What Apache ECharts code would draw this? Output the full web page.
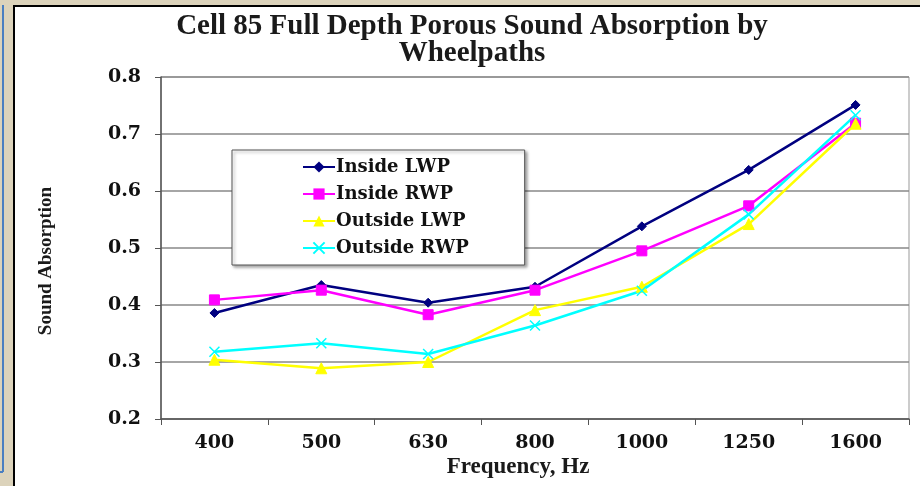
<!DOCTYPE html>
<html>
<head>
<meta charset="utf-8">
<script src="https://cdn.jsdelivr.net/npm/echarts@6/dist/echarts.min.js"></script>
<style>
html,body{margin:0;padding:0;background:#dcd3bb;}
#c{width:920px;height:486px;}
</style>
</head>
<body>
<div id="c"></div>
<script>
const categories = ['400','500','630','800','1000','1250','1600'];
const insideLWP  = [0.386, 0.435, 0.404, 0.432, 0.538, 0.637, 0.751];
const insideRWP  = [0.409, 0.426, 0.383, 0.426, 0.495, 0.574, 0.719];
const outsideLWP = [0.304, 0.289, 0.300, 0.391, 0.432, 0.542, 0.718];
const outsideRWP = [0.318, 0.333, 0.314, 0.364, 0.425, 0.559, 0.733];
const seriesNames = ['Inside LWP','Inside RWP','Outside LWP','Outside RWP'];

const serif = '"Liberation Serif", "DejaVu Serif", serif';
const wideSerif = '"DejaVu Serif", serif';
const xPath = 'path://M0,0 L10,10 M10,0 L0,10';

const chart = echarts.init(document.getElementById('c'), null, {renderer:'canvas'});
function mk(name, data, color, symbol, size, extra){
  return Object.assign({
    name: name, type:'line', data: data,
    symbol: symbol, symbolSize: size,
    lineStyle:{color: color, width: 2.5},
    itemStyle:{color: color, borderColor: color},
    animation:false
  }, extra||{});
}
chart.setOption({
  backgroundColor:'#dcd3bb',
  animation:false,
  graphic:[
    {type:'rect', shape:{x:0,y:0,width:920,height:486}, style:{fill:'#dcd3bb'}, z:-10, silent:true},
    {type:'line', shape:{x1:3,y1:5,x2:3,y2:472}, style:{stroke:'#4a7fc1', lineWidth:2}, z:-9},
    {type:'line', shape:{x1:0,y1:472,x2:3,y2:472}, style:{stroke:'#4a7fc1', lineWidth:2}, z:-9},
    {type:'rect', shape:{x:13,y:5,width:907,height:481}, style:{fill:'#000'}, z:-8, silent:true},
    {type:'rect', shape:{x:15,y:7,width:905,height:479}, style:{fill:'#fff'}, z:-7, silent:true},
    {type:'text', x:46, y:261, rotation:Math.PI/2, z:10,
      style:{text:'Sound Absorption', fill:'#1a1a1a', font:'bold 19px "Liberation Serif", serif', align:'center', verticalAlign:'middle'}},
    {type:'text', x:518, y:467, z:10,
      style:{text:'Frequency, Hz', fill:'#1a1a1a', font:'bold 23px "Liberation Serif", serif', align:'center', verticalAlign:'middle'}}
  ],
  title:{
    text:'Cell 85 Full Depth Porous Sound Absorption by\nWheelpaths',
    left:467, top:8, textAlign:'center',
    textStyle:{fontFamily:serif, fontWeight:'bold', fontSize:29, color:'#1a1a1a', lineHeight:27}
  },
  legend:{
    orient:'vertical', left:232, top:150,
    padding:[8,56,8,70],
    itemGap:9, itemWidth:32, itemHeight:14,
    backgroundColor:'#fff',
    borderColor:'#555', borderWidth:1,
    shadowColor:'rgba(0,0,0,0.35)', shadowBlur:3, shadowOffsetX:2, shadowOffsetY:2,
    data: seriesNames,
    textStyle:{fontFamily:wideSerif, fontWeight:'bold', fontSize:18, color:'#111', padding:[0,0,0,-4]}
  },
  grid:{left:161, right:11, top:77, bottom:67, show:true, borderColor:'#999', borderWidth:1, backgroundColor:'transparent'},
  xAxis:{
    type:'category', data: categories, boundaryGap:true,
    axisLine:{lineStyle:{color:'#555', width:1.5}},
    axisTick:{show:true, inside:false, length:6, lineStyle:{color:'#555'}, alignWithLabel:false},
    axisLabel:{fontFamily:wideSerif, fontWeight:'bold', fontSize:19, color:'#111', margin:15}
  },
  yAxis:{
    type:'value', min:0.2, max:0.8, interval:0.1,
    axisLine:{show:true, lineStyle:{color:'#555', width:1.5}},
    axisTick:{show:true, length:6, lineStyle:{color:'#555'}},
    splitLine:{lineStyle:{color:'#888', width:1.5}},
    axisLabel:{fontFamily:wideSerif, fontWeight:'bold', fontSize:19, color:'#111', margin:20,
      formatter:function(v){return v.toFixed(1);}}
  },
  series:[
    mk(seriesNames[0], insideLWP, '#000080', 'diamond', 9),
    mk(seriesNames[1], insideRWP, '#ff00ff', 'rect', 10),
    mk(seriesNames[2], outsideLWP, '#ffff00', 'triangle', 11),
    mk(seriesNames[3], outsideRWP, '#00ffff', xPath, 10, {itemStyle:{color:'none', borderColor:'#00ffff', borderWidth:1.5}})
  ]
});
</script>
</body>
</html>
